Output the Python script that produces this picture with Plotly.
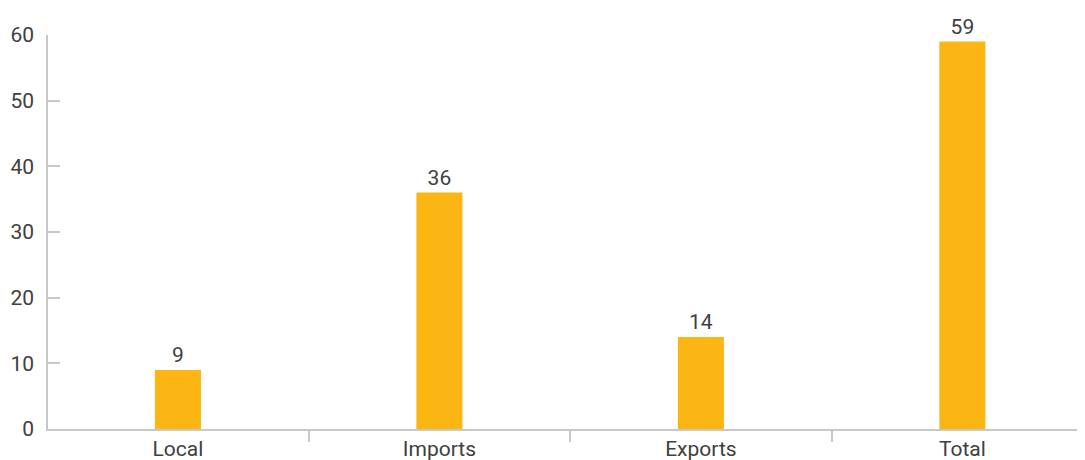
import plotly.graph_objects as go

categories = ["Local", "Imports", "Exports", "Total"]
values = [9, 36, 14, 59]
y_ticks = [0, 10, 20, 30, 40, 50, 60]

FONT = "Roboto, Arial, sans-serif"
TXT = "#404040"
AX = "#c8c8c8"

fig = go.Figure(go.Bar(
    x=categories, y=values,
    marker=dict(color="#FBB614", line=dict(width=0)),
    text=[str(v) for v in values], textposition="outside",
    textfont=dict(family=FONT, size=21, color=TXT),
    cliponaxis=False,
))
fig.update_layout(
    width=1077, height=452,
    margin=dict(l=40, r=0, t=27, b=31, autoexpand=False),
    paper_bgcolor="white", plot_bgcolor="white",
    bargap=0.824, showlegend=False,
    font=dict(family=FONT, size=21, color=TXT),
)
fig.update_xaxes(
    range=[-0.497, 3.469], tickson="boundaries", ticks="outside", ticklen=11,
    tickcolor=AX, tickwidth=1.5, showline=True, linecolor=AX, linewidth=1.5,
    showgrid=False, tickfont=dict(family=FONT, size=21, color=TXT),
    automargin=False,
)
fig.update_yaxes(
    range=[0, 60], tickvals=y_ticks, ticks="inside", ticklen=12,
    tickcolor=AX, tickwidth=1.5, showline=True, linecolor=AX, linewidth=1.5,
    showgrid=False, zeroline=False, tickfont=dict(family=FONT, size=21, color=TXT),
    ticklabelstandoff=8, automargin=False,
)
fig.write_html("out.html")
